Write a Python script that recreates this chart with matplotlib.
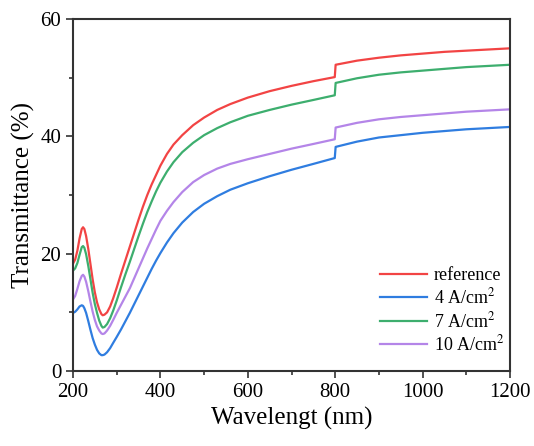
import numpy as np
import matplotlib.pyplot as plt
from matplotlib.ticker import MultipleLocator

# wavelength grid (nm)
wavelength = [200, 205, 210, 215, 220, 223, 226, 230, 235, 240, 245, 250, 255, 260, 265, 268,
              272, 278, 285, 292, 300, 310, 320, 330, 340, 350, 360, 370, 380, 390, 400, 415,
              430, 450, 475, 500, 530, 560, 600, 650, 700, 750, 799, 801, 850, 900, 950, 1000,
              1050, 1100, 1150, 1200]

t_reference = [18.3, 19.0, 20.5, 22.6, 24.2, 24.5, 24.2, 23.0, 20.8, 18.2, 15.6, 13.4, 11.7, 10.5, 9.7, 9.5,
               9.6, 10.0, 11.0, 12.4, 14.2, 16.6, 18.9, 21.2, 23.5, 25.8, 28.0, 30.0, 31.8, 33.4, 35.0, 37.0,
               38.6, 40.2, 41.9, 43.2, 44.5, 45.5, 46.6, 47.7, 48.6, 49.4, 50.1, 52.2, 52.9, 53.4, 53.8, 54.1,
               54.4, 54.6, 54.8, 55.0]
t_4a = [9.9, 10.1, 10.5, 11.0, 11.2, 11.1, 10.7, 9.9, 8.5, 7.0, 5.6, 4.5, 3.6, 3.0, 2.7, 2.7,
        2.8, 3.2, 3.9, 4.8, 5.8, 7.1, 8.5, 9.9, 11.4, 12.9, 14.4, 15.9, 17.4, 18.8, 20.1, 21.9,
        23.5, 25.3, 27.1, 28.5, 29.8, 30.9, 32.0, 33.2, 34.3, 35.3, 36.3, 38.2, 39.1, 39.8, 40.2, 40.6,
        40.9, 41.2, 41.4, 41.6]
t_7a = [17.1, 17.5, 18.4, 19.8, 21.1, 21.3, 21.0, 19.9, 17.9, 15.6, 13.3, 11.4, 9.9, 8.6, 7.7, 7.4,
        7.5, 8.0, 9.0, 10.3, 12.0, 14.3, 16.5, 18.6, 20.8, 23.0, 25.1, 27.1, 28.9, 30.6, 32.1, 34.0,
        35.6, 37.3, 38.9, 40.2, 41.4, 42.4, 43.5, 44.5, 45.4, 46.2, 47.0, 49.1, 49.9, 50.5, 50.9, 51.2,
        51.5, 51.8, 52.0, 52.2]
t_10a = [12.2, 12.8, 14.0, 15.3, 16.2, 16.4, 16.1, 15.2, 13.6, 11.8, 10.1, 8.7, 7.6, 6.9, 6.4, 6.3,
         6.4, 6.9, 7.7, 8.7, 9.9, 11.3, 12.7, 14.1, 15.8, 17.5, 19.2, 20.9, 22.5, 24.1, 25.6, 27.3,
         28.8, 30.5, 32.2, 33.4, 34.5, 35.3, 36.1, 37.0, 37.9, 38.7, 39.5, 41.5, 42.3, 42.9, 43.3, 43.6,
         43.9, 44.2, 44.4, 44.6]

labels = ['reference', '4 A/cm$^2$', '7 A/cm$^2$', '10 A/cm$^2$']
colors = ['#F24444', '#2F7DE0', '#3DAE6E', '#B485E8']
series = [t_reference, t_4a, t_7a, t_10a]

plt.rcParams['font.family'] = ['Liberation Serif', 'DejaVu Serif']
plt.rcParams['mathtext.fontset'] = 'stix'

fig = plt.figure(figsize=(5.34, 4.46), dpi=100)
ax = fig.add_axes([73 / 534, 1 - 371 / 446, 437 / 534, 352 / 446])

for y, lab, c in zip(series, labels, colors):
    ax.plot(wavelength, y, color=c, lw=1.6, label=lab)

ax.set_xlim(200, 1200)
ax.set_ylim(0, 60)
ax.xaxis.set_major_locator(MultipleLocator(200))
ax.xaxis.set_minor_locator(MultipleLocator(100))
ax.yaxis.set_major_locator(MultipleLocator(20))
ax.yaxis.set_minor_locator(MultipleLocator(10))

for s in ax.spines.values():
    s.set_linewidth(1.5)
    s.set_color('#333333')
ax.tick_params(which='both', direction='out', top=False, right=False,
               width=1.2, color='#333333', labelsize=15)
ax.tick_params(which='major', length=5)
ax.tick_params(which='minor', length=3)

ax.set_xlabel('Wavelengt (nm)', fontsize=18, labelpad=4)
ax.set_ylabel('Transmittance (%)', fontsize=18, labelpad=4)

ax.legend(loc='lower right', frameon=False, fontsize=13, handlelength=2.6,
          handletextpad=0.4, labelspacing=0.2, bbox_to_anchor=(1.025, 0.0))

fig.savefig('out.png', dpi=100)
